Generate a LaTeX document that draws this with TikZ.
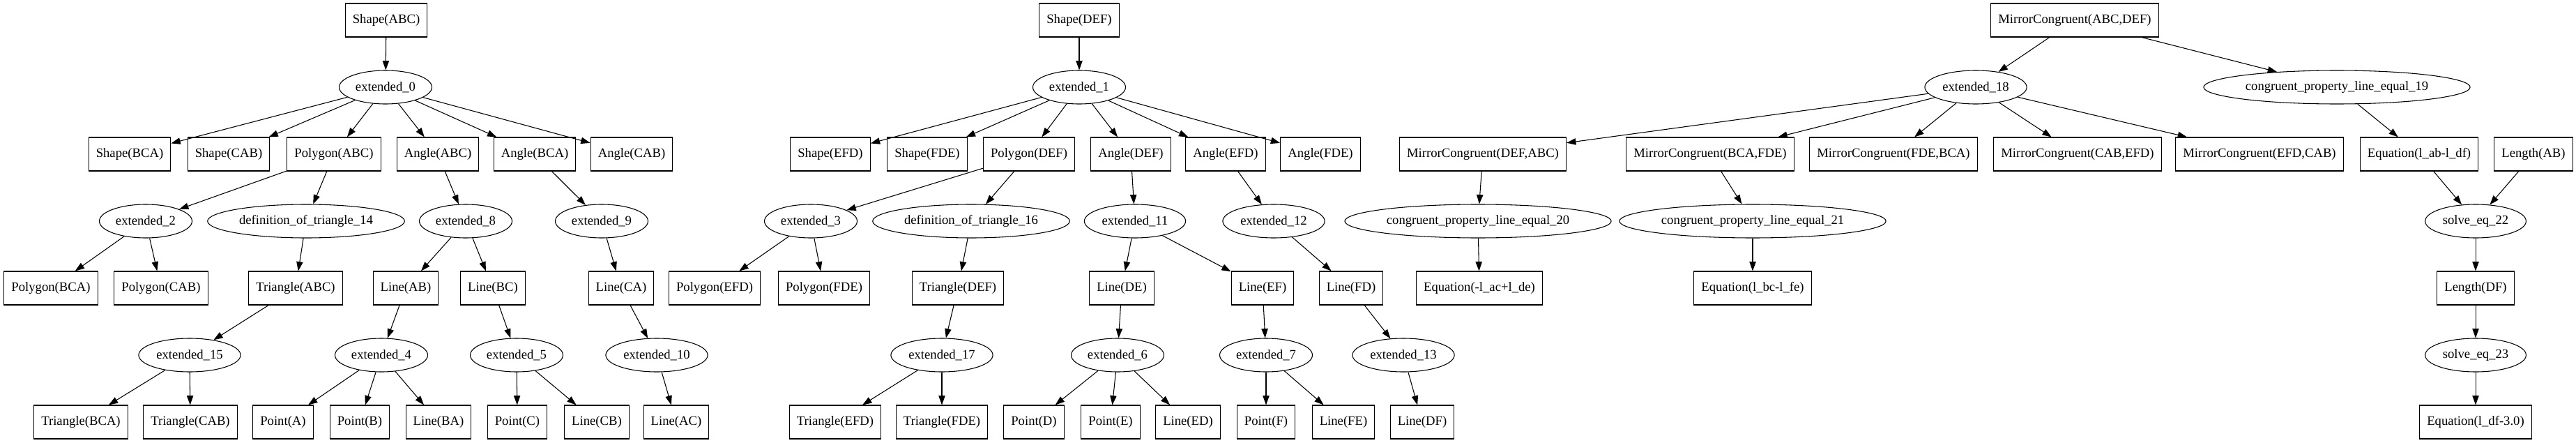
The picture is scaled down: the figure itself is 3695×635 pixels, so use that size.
\documentclass[tikz,border=0pt]{standalone}
\usepackage{fontspec}
\setmainfont{Liberation Serif}
\usepackage{tikz}
\usetikzlibrary{arrows.meta,shapes.geometric}

\tikzset{
  box/.style={draw,rectangle,line width=0.8pt,minimum height=36pt,inner xsep=8pt,inner ysep=0pt},
  oval/.style={draw,ellipse,line width=0.8pt,minimum height=36pt,inner xsep=3pt,inner ysep=0pt},
  edge/.style={->,line width=0.8pt}
}

\begin{document}
\begin{tikzpicture}[>={Triangle[length=10pt,width=7pt]},x=0.75pt,y=0.75pt,
    font=\fontsize{14}{16}\selectfont]
    \useasboundingbox (0,0) rectangle (3695,-635);
    % first tree
    \node[box] (shapeABC) at (554,-29) {Shape(ABC)};
    \node[oval] (ext0) at (553,-125) {extended\_0};
    \node[box] (shapeBCA) at (186,-221) {Shape(BCA)};
    \node[box] (shapeCAB) at (328,-221) {Shape(CAB)};
    \node[box] (polyABC) at (479,-221) {Polygon(ABC)};
    \node[box] (angABC) at (628,-221) {Angle(ABC)};
    \node[box] (angBCA) at (767,-221) {Angle(BCA)};
    \node[box] (angCAB) at (906,-221) {Angle(CAB)};
    \node[oval] (ext2) at (209,-317) {extended\_2};
    \node[oval] (def14) at (439,-317) {definition\_of\_triangle\_14};
    \node[oval] (ext8) at (668,-317) {extended\_8};
    \node[oval] (ext9) at (863,-317) {extended\_9};
    \node[box] (polyBCA) at (73,-413) {Polygon(BCA)};
    \node[box] (polyCAB) at (231,-413) {Polygon(CAB)};
    \node[box] (triABC) at (424,-413) {Triangle(ABC)};
    \node[box] (lineAB) at (582,-413) {Line(AB)};
    \node[box] (lineBC) at (707,-413) {Line(BC)};
    \node[box] (lineCA) at (891,-413) {Line(CA)};
    \node[oval] (ext15) at (272,-509) {extended\_15};
    \node[oval] (ext4) at (547,-509) {extended\_4};
    \node[oval] (ext5) at (741,-509) {extended\_5};
    \node[oval] (ext10) at (942,-509) {extended\_10};
    \node[box] (triBCA) at (116,-605) {Triangle(BCA)};
    \node[box] (triCAB) at (273,-605) {Triangle(CAB)};
    \node[box] (pointA) at (406,-605) {Point(A)};
    \node[box] (pointB) at (516,-605) {Point(B)};
    \node[box] (lineBA) at (629,-605) {Line(BA)};
    \node[box] (pointC) at (742,-605) {Point(C)};
    \node[box] (lineCB) at (856,-605) {Line(CB)};
    \node[box] (lineAC) at (970,-605) {Line(AC)};
    % second tree
    \node[box] (shapeDEF) at (1548,-29) {Shape(DEF)};
    \node[oval] (ext1) at (1548,-125) {extended\_1};
    \node[box] (shapeEFD) at (1191,-221) {Shape(EFD)};
    \node[box] (shapeFDE) at (1330,-221) {Shape(FDE)};
    \node[box] (polyDEF) at (1476,-221) {Polygon(DEF)};
    \node[box] (angDEF) at (1622,-221) {Angle(DEF)};
    \node[box] (angEFD) at (1758,-221) {Angle(EFD)};
    \node[box] (angFDE) at (1894,-221) {Angle(FDE)};
    \node[oval] (ext3) at (1163,-317) {extended\_3};
    \node[oval] (def16) at (1393,-317) {definition\_of\_triangle\_16};
    \node[oval] (ext11) at (1628,-317) {extended\_11};
    \node[oval] (ext12) at (1827,-317) {extended\_12};
    \node[box] (polyEFD) at (1025,-413) {Polygon(EFD)};
    \node[box] (polyFDE) at (1182,-413) {Polygon(FDE)};
    \node[box] (triDEF) at (1374,-413) {Triangle(DEF)};
    \node[box] (lineDE) at (1609,-413) {Line(DE)};
    \node[box] (lineEF) at (1811,-413) {Line(EF)};
    \node[box] (lineFD) at (1938,-413) {Line(FD)};
    \node[oval] (ext17) at (1351,-509) {extended\_17};
    \node[oval] (ext6) at (1603,-509) {extended\_6};
    \node[oval] (ext7) at (1816,-509) {extended\_7};
    \node[oval] (ext13) at (2013,-509) {extended\_13};
    \node[box] (triEFD) at (1198,-605) {Triangle(EFD)};
    \node[box] (triFDE) at (1351,-605) {Triangle(FDE)};
    \node[box] (pointD) at (1483,-605) {Point(D)};
    \node[box] (pointE) at (1593,-605) {Point(E)};
    \node[box] (lineED) at (1704,-605) {Line(ED)};
    \node[box] (pointF) at (1816,-605) {Point(F)};
    \node[box] (lineFE) at (1927,-605) {Line(FE)};
    \node[box] (lineDF) at (2040,-605) {Line(DF)};
    % third tree
    \node[box] (mcABCDEF) at (2976,-29) {MirrorCongruent(ABC,DEF)};
    \node[oval] (ext18) at (2834,-125) {extended\_18};
    \node[oval] (cp19) at (3352,-125) {congruent\_property\_line\_equal\_19};
    \node[box] (mcDEFABC) at (2127,-221) {MirrorCongruent(DEF,ABC)};
    \node[box] (mcBCAFDE) at (2453,-221) {MirrorCongruent(BCA,FDE)};
    \node[box] (mcFDEBCA) at (2716,-221) {MirrorCongruent(FDE,BCA)};
    \node[box] (mcCABEFD) at (2980,-221) {MirrorCongruent(CAB,EFD)};
    \node[box] (mcEFDCAB) at (3241,-221) {MirrorCongruent(EFD,CAB)};
    \node[box] (eqAbDf) at (3470,-221) {Equation(l\_ab-l\_df)};
    \node[box] (lenAB) at (3634,-221) {Length(AB)};
    \node[oval] (cp20) at (2120,-317) {congruent\_property\_line\_equal\_20};
    \node[oval] (cp21) at (2514,-317) {congruent\_property\_line\_equal\_21};
    \node[oval] (solve22) at (3551,-317) {solve\_eq\_22};
    \node[box] (eqAcDe) at (2122,-413) {Equation(-l\_ac+l\_de)};
    \node[box] (eqBcFe) at (2514,-413) {Equation(l\_bc-l\_fe)};
    \node[box] (lenDF) at (3551,-413) {Length(DF)};
    \node[oval] (solve23) at (3551,-509) {solve\_eq\_23};
    \node[box] (eqDf) at (3551,-605) {Equation(l\_df-3.0)};
    % edges
    \foreach \a/\b in {shapeABC/ext0,ext0/shapeBCA,ext0/shapeCAB,ext0/polyABC,ext0/angABC,
        ext0/angBCA,ext0/angCAB,polyABC/ext2,polyABC/def14,ext2/polyBCA,ext2/polyCAB,
        def14/triABC,triABC/ext15,ext15/triBCA,ext15/triCAB,angABC/ext8,ext8/lineAB,
        ext8/lineBC,lineAB/ext4,ext4/pointA,ext4/pointB,ext4/lineBA,lineBC/ext5,
        ext5/pointC,ext5/lineCB,angBCA/ext9,ext9/lineCA,lineCA/ext10,ext10/lineAC,
        shapeDEF/ext1,ext1/shapeEFD,ext1/shapeFDE,ext1/polyDEF,ext1/angDEF,
        ext1/angEFD,ext1/angFDE,polyDEF/ext3,polyDEF/def16,ext3/polyEFD,ext3/polyFDE,
        def16/triDEF,triDEF/ext17,ext17/triEFD,ext17/triFDE,angDEF/ext11,ext11/lineDE,
        ext11/lineEF,lineDE/ext6,ext6/pointD,ext6/pointE,ext6/lineED,lineEF/ext7,
        ext7/pointF,ext7/lineFE,angEFD/ext12,ext12/lineFD,lineFD/ext13,ext13/lineDF,
        mcABCDEF/ext18,mcABCDEF/cp19,ext18/mcDEFABC,ext18/mcBCAFDE,ext18/mcFDEBCA,
        ext18/mcCABEFD,ext18/mcEFDCAB,mcDEFABC/cp20,cp20/eqAcDe,mcBCAFDE/cp21,
        cp21/eqBcFe,cp19/eqAbDf,eqAbDf/solve22,lenAB/solve22,solve22/lenDF,
        lenDF/solve23,solve23/eqDf}
      \draw[edge] (\a) -- (\b);
\end{tikzpicture}
\end{document}
